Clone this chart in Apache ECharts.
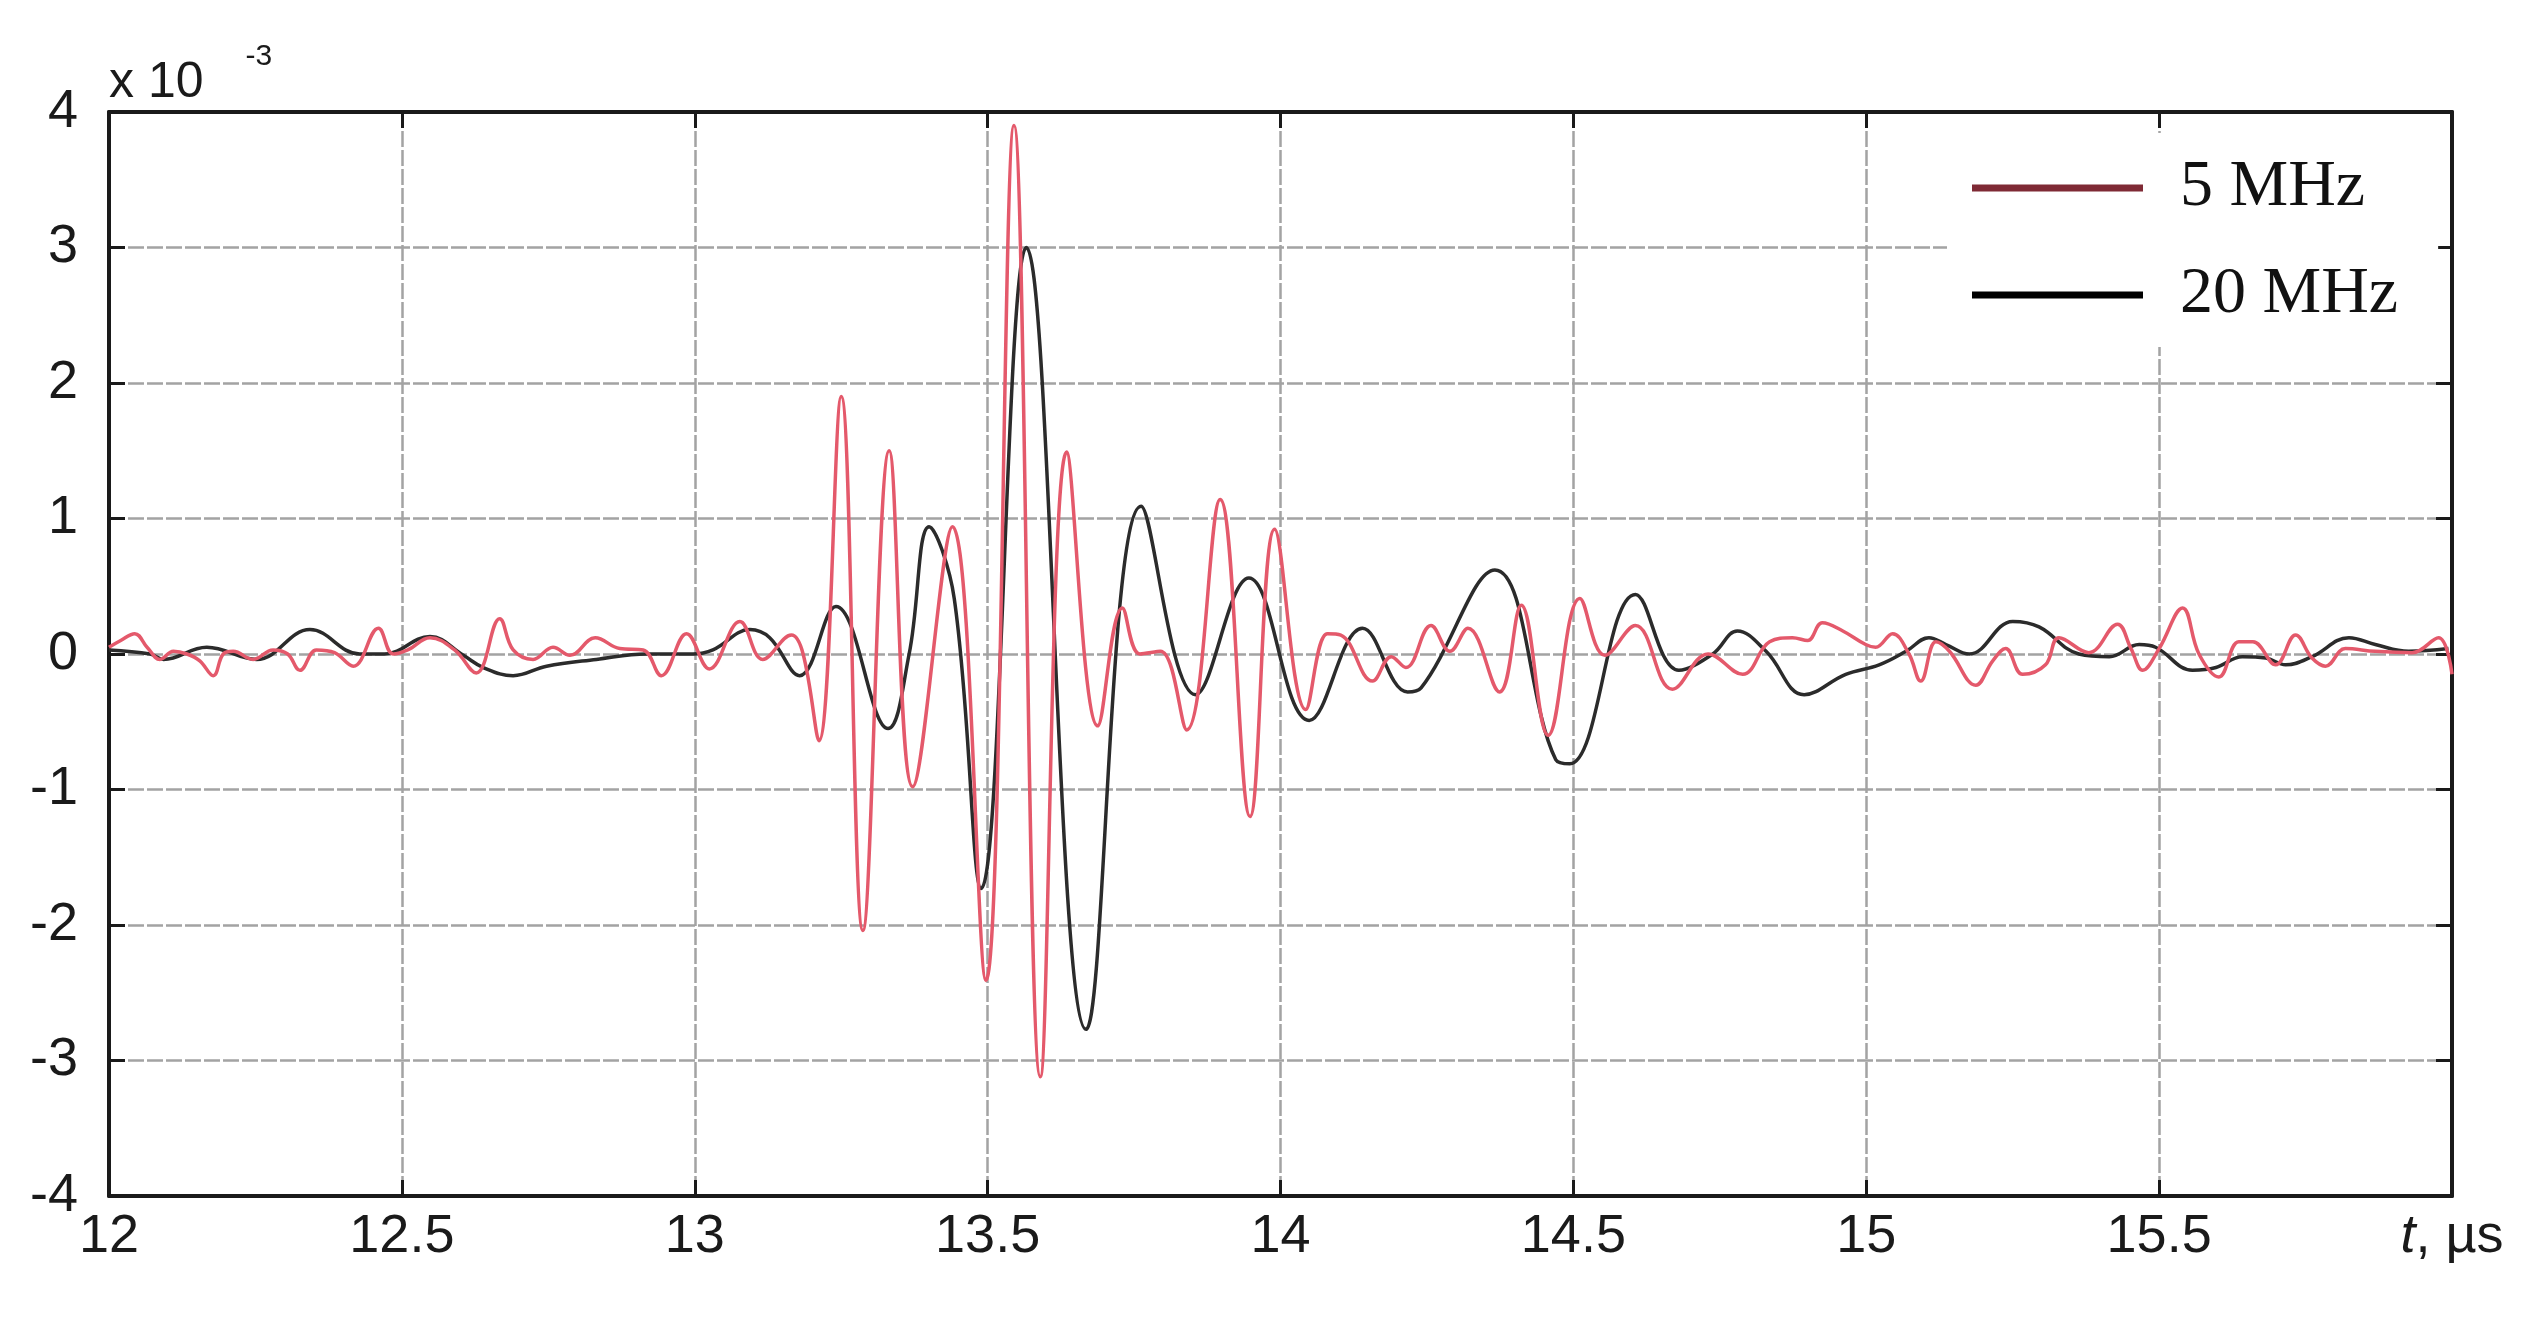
<!DOCTYPE html>
<html>
<head>
<meta charset="utf-8">
<script src="https://cdn.jsdelivr.net/npm/echarts@6/dist/echarts.min.js"></script>
<style>
  html, body { margin: 0; padding: 0; background: #fff; }
  #chart { width: 2546px; height: 1320px; }
</style>
</head>
<body>
<div id="chart"></div>
<script>
// time axis (µs) and signal values (x 10^-3)
const t5 = [
  12.0, 12.02, 12.044, 12.065, 12.087, 12.11, 12.133, 12.155, 12.178, 12.195,
  12.212, 12.246, 12.28, 12.305, 12.326, 12.354, 12.385, 12.417, 12.46, 12.485,
  12.51, 12.548, 12.59, 12.627, 12.667, 12.69, 12.724, 12.758, 12.787, 12.83,
  12.872, 12.912, 12.943, 12.986, 13.025, 13.077, 13.116, 13.165, 13.185, 13.212,
  13.25, 13.287, 13.332, 13.372, 13.44, 13.497, 13.545, 13.59, 13.635, 13.688,
  13.73, 13.76, 13.795, 13.84, 13.897, 13.948, 13.99, 14.043, 14.08, 14.103,
  14.157, 14.189, 14.214, 14.257, 14.289, 14.32, 14.374, 14.411, 14.457, 14.511,
  14.554, 14.606, 14.669, 14.73, 14.789, 14.835, 14.874, 14.9, 14.925, 14.96,
  14.999, 15.016, 15.045, 15.073, 15.093, 15.119, 15.142, 15.187, 15.216, 15.238,
  15.267, 15.306, 15.329, 15.38, 15.429, 15.452, 15.472, 15.5, 15.54, 15.568,
  15.602, 15.636, 15.66, 15.699, 15.733, 15.761, 15.784, 15.818, 15.869, 15.932,
  15.977, 16.0
];
const v5 = [
  0.05, 0.10, 0.15, 0.05, -0.04, 0.02, 0.0, -0.05, -0.16, 0.0,
  0.02, -0.04, 0.03, 0.0, -0.12, 0.03, 0.01, -0.09, 0.19, 0.0,
  0.03, 0.12, 0.03, -0.14, 0.26, 0.03, -0.04, 0.05, -0.01, 0.12,
  0.04, 0.03, -0.16, 0.15, -0.11, 0.24, -0.04, 0.14, 0.0, -0.64,
  1.9, -2.04, 1.5, -0.98, 0.94, -2.41, 3.9, -3.12, 1.49, -0.53,
  0.34, 0.0, 0.02, -0.56, 1.14, -1.2, 0.92, -0.41, 0.15, 0.14,
  -0.2, -0.02, -0.1, 0.21, 0.02, 0.19, -0.28, 0.36, -0.6, 0.41,
  -0.01, 0.21, -0.26, 0.0, -0.15, 0.09, 0.12, 0.1, 0.23, 0.17,
  0.07, 0.05, 0.15, 0.0, -0.2, 0.09, 0.02, -0.23, -0.05, 0.04,
  -0.15, -0.08, 0.12, 0.01, 0.22, 0.04, -0.12, 0.04, 0.34, 0.0,
  -0.17, 0.09, 0.09, -0.08, 0.14, -0.03, -0.09, 0.04, 0.02, 0.01,
  0.12, -0.15
];

const t20 = [
  12.0, 12.07, 12.093, 12.167, 12.252, 12.343, 12.428, 12.47, 12.548, 12.605,
  12.639, 12.69, 12.747, 12.832, 12.918, 12.997, 13.031, 13.094, 13.128, 13.179,
  13.241, 13.33, 13.366, 13.40, 13.443, 13.489, 13.566, 13.668, 13.762, 13.855,
  13.946, 14.049, 14.14, 14.217, 14.24, 14.366, 14.47, 14.494, 14.606, 14.68,
  14.738, 14.78, 14.829, 14.894, 14.965, 15.022, 15.068, 15.107, 15.136, 15.176,
  15.25, 15.295, 15.363, 15.415, 15.466, 15.494, 15.557, 15.597, 15.642, 15.682,
  15.716, 15.761, 15.824, 15.869, 15.926, 15.994
];
const v20 = [
  0.03, 0.0, -0.04, 0.05, -0.04, 0.18, 0.0, 0.0, 0.13, -0.01,
  -0.1, -0.16, -0.09, -0.04, 0.0, 0.0, 0.03, 0.18, 0.12, -0.16,
  0.35, -0.55, 0.0, 0.94, 0.41, -1.73, 3.0, -2.77, 1.09, -0.3,
  0.56, -0.49, 0.19, -0.28, -0.25, 0.62, -0.78, -0.81, 0.44, -0.12,
  0.0, 0.17, 0.02, -0.3, -0.15, -0.08, 0.02, 0.12, 0.07, 0.0,
  0.24, 0.2, 0.0, -0.02, 0.07, 0.05, -0.12, -0.1, -0.02, -0.03,
  -0.08, -0.02, 0.12, 0.07, 0.02, 0.04
];

const seriesNames = ["5 MHz", "20 MHz"];

const tickFont = "'Liberation Sans Narrow', 'Liberation Sans', Arial, sans-serif";
const gridLine = { show: true, lineStyle: { color: "#a3a3a3", width: 2.5, type: [16, 3] } };

const chart = echarts.init(document.getElementById("chart"));

const frameAxis = {
  axisLine: { show: true, onZero: false, lineStyle: { color: "#1a1a1a", width: 4 } },
  axisTick: { show: true, inside: true, length: 16, lineStyle: { color: "#1a1a1a", width: 3 } },
  axisLabel: { show: false },
  splitLine: { show: false },
};

const option = {
  backgroundColor: "#fff",
  animation: false,
  grid: { left: 109, right: 94, top: 112, bottom: 124 },
  legend: {
    data: [
      { name: seriesNames[0], itemStyle: { color: "#7f2a35" } },
      { name: seriesNames[1], itemStyle: { color: "#000" } },
    ],
    orient: "vertical",
    left: 1947,
    top: 133,
    backgroundColor: "#fff",
    padding: [22, 40, 19, 25],
    icon: "rect",
    itemWidth: 171,
    itemHeight: 7,
    itemGap: 41,
    textStyle: {
      fontFamily: "'Liberation Serif', 'Times New Roman', serif",
      fontSize: 66,
      color: "#111",
      lineHeight: 64,
      padding: [0, 0, 0, 32],
    },
  },
  xAxis: [
    {
      type: "value",
      min: 12,
      max: 16,
      interval: 0.5,
      axisLine: { show: true, onZero: false, lineStyle: { color: "#1a1a1a", width: 4 } },
      axisTick: { show: true, inside: true, length: 16, lineStyle: { color: "#1a1a1a", width: 3 } },
      axisLabel: {
        margin: 14,
        fontFamily: tickFont,
        fontSize: 54,
        color: "#1a1a1a",
        formatter: (v) => (v === 16 ? "{i|t}, µs" : String(v)),
        rich: {
          i: { fontStyle: "italic", fontFamily: tickFont, fontSize: 54, color: "#1a1a1a" },
        },
      },
      splitLine: gridLine,
    },
    Object.assign({ type: "value", position: "top", min: 12, max: 16, interval: 0.5 }, frameAxis),
  ],
  yAxis: [
    {
      type: "value",
      min: -4,
      max: 4,
      interval: 1,
      name: "{a|x 10}{b|-3}",
      nameLocation: "end",
      nameGap: 4,
      nameTextStyle: {
        align: "left",
        rich: {
          a: { fontFamily: tickFont, fontSize: 50, color: "#1a1a1a", verticalAlign: "bottom" },
          b: { fontFamily: tickFont, fontSize: 30, color: "#1a1a1a", verticalAlign: "bottom", padding: [0, 0, 36, 42] },
        },
      },
      axisLine: { show: true, onZero: false, lineStyle: { color: "#1a1a1a", width: 4 } },
      axisTick: { show: true, inside: true, length: 16, lineStyle: { color: "#1a1a1a", width: 3 } },
      axisLabel: { margin: 31, fontFamily: tickFont, fontSize: 54, color: "#1a1a1a" },
      splitLine: gridLine,
    },
    Object.assign({ type: "value", position: "right", min: -4, max: 4, interval: 1 }, frameAxis),
  ],
  series: [
    {
      name: seriesNames[0],
      type: "line",
      data: t5.map((t, i) => [t, v5[i]]),
      symbol: "none",
      smooth: 0.4,
      lineStyle: { color: "#e4596b", width: 3.5 },
      itemStyle: { color: "#e4596b" },
      z: 3,
    },
    {
      name: seriesNames[1],
      type: "line",
      data: t20.map((t, i) => [t, v20[i]]),
      symbol: "none",
      smooth: 0.4,
      lineStyle: { color: "#2b2b2b", width: 3.5 },
      itemStyle: { color: "#2b2b2b" },
      z: 2,
    },
  ],
};

chart.setOption(option);
</script>
</body>
</html>
